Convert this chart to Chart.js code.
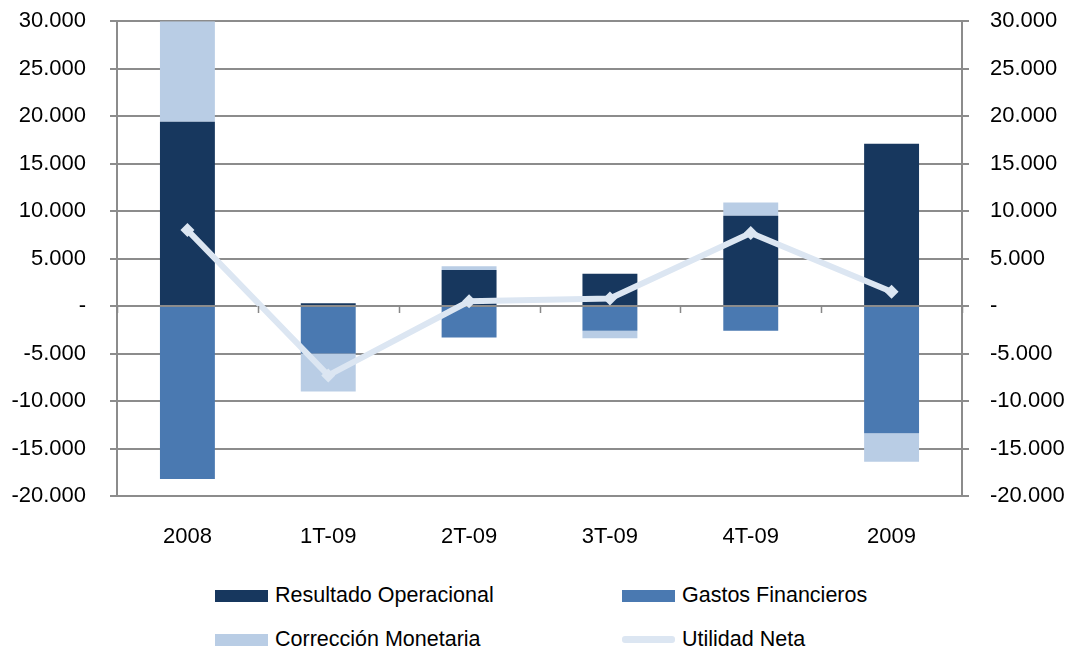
<!DOCTYPE html>
<html>
<head>
<meta charset="utf-8">
<script src="https://cdn.jsdelivr.net/npm/chart.js@4/dist/chart.umd.min.js"></script>
<style>
  body { margin: 0; background: #fff; font-family: "Liberation Sans", Arial, sans-serif; }
  #wrap { position: relative; width: 1068px; height: 651px; overflow: hidden; }
  #box { position: absolute; left: 0; top: -16px; width: 1068px; height: 572px; }
  .leg { position: absolute; font-size: 21.5px; color: #000; display: flex; align-items: center; }
  .sw { width: 53px; height: 12px; margin-right: 7px; position: relative; }
</style>
</head>
<body>
<div id="wrap">
  <div id="box"><canvas id="grafik"></canvas></div>
  <div class="leg" style="left:215px; top:583px;"><div class="sw" style="background:#17375e"></div>Resultado Operacional</div>
  <div class="leg" style="left:622px; top:583px;"><div class="sw" style="background:#4a79b1"></div>Gastos Financieros</div>
  <div class="leg" style="left:215px; top:627px;"><div class="sw" style="background:#b9cde5"></div>Corrección Monetaria</div>
  <div class="leg" style="left:622px; top:627px;"><div class="sw" style="background:#dce6f2; height:7px; border-radius:3px;"></div>Utilidad Neta</div>
</div>
<script>
// Data
var perioder = ["2008", "1T-09", "2T-09", "3T-09", "4T-09", "2009"];
var resultadoOperacional = [19400, 300, 3800, 3400, 9500, 17100];
var gastosFinancieros = [-18200, -5000, -3300, -2600, -2600, -13400];
var correccionMonetaria = [10600, -4000, 400, -800, 1400, -3000];
var utilidadNeta = [8000, -7300, 500, 800, 7700, 1500];

function formatTal(v) {
  if (v === 0) return "-";
  var s = Math.abs(v).toString().replace(/\B(?=(\d{3})+(?!\d))/g, ".");
  return (v < 0 ? "-" : "") + s;
}

// tick marks along the zero line between categories
var nulTicks = {
  id: "nulTicks",
  afterDatasetsDraw: function (chart) {
    var ctx = chart.ctx;
    var y0 = chart.scales.y.getPixelForValue(0);
    var n = perioder.length;
    var w = (chart.chartArea.right - chart.chartArea.left) / n;
    ctx.save();
    ctx.strokeStyle = "#888";
    ctx.lineWidth = 1.5;
    ctx.beginPath();
    for (var i = 0; i <= n; i++) {
      var px = Math.round(chart.chartArea.left + i * w) + 0.5;
      ctx.moveTo(px, y0);
      ctx.lineTo(px, y0 + 7);
    }
    ctx.stroke();
    ctx.restore();
  }
};

var ctxGrafik = document.getElementById("grafik").getContext("2d");
var grafik = new Chart(ctxGrafik, {
  type: "bar",
  data: {
    labels: perioder,
    datasets: [
      {
        type: "line",
        label: "Utilidad Neta",
        data: utilidadNeta,
        borderColor: "#dce6f2",
        backgroundColor: "#dce6f2",
        borderWidth: 6,
        pointStyle: "rectRot",
        pointRadius: 7,
        pointBorderWidth: 0,
        stack: "linje",
        order: 0,
      },
      {
        label: "Resultado Operacional",
        data: resultadoOperacional,
        backgroundColor: "#17375e",
        stack: "s",
        order: 1,
      },
      {
        label: "Gastos Financieros",
        data: gastosFinancieros,
        backgroundColor: "#4a79b1",
        stack: "s",
        order: 1,
      },
      {
        label: "Corrección Monetaria",
        data: correccionMonetaria,
        backgroundColor: "#b9cde5",
        stack: "s",
        order: 1,
      },
    ],
  },
  options: {
    responsive: true,
    maintainAspectRatio: false,
    animation: false,
    datasets: { bar: { barPercentage: 0.39, categoryPercentage: 1.0 } },
    layout: { padding: { top: 5, left: 0, right: 0, bottom: 0 } },
    plugins: { legend: { display: false }, tooltip: { enabled: false } },
    scales: {
      x: {
        stacked: true,
        grid: { display: false },
        border: { display: false },
        ticks: { color: "#000", font: { family: "Liberation Sans", size: 22 }, padding: 20 },
        afterFit: function (s) { s.height = 60; },
      },
      y: {
        stacked: true,
        min: -20000,
        max: 30000,
        position: "left",
        grid: { color: "#8c8c8c", lineWidth: 2, tickLength: 7 },
        border: { color: "#8c8c8c", width: 2 },
        ticks: {
          stepSize: 5000,
          color: "#000",
          font: { family: "Liberation Sans", size: 22 },
          padding: 24,
          callback: function (v) { return formatTal(v); },
        },
        afterFit: function (s) { s.width = 117; },
      },
      y2: {
        min: -20000,
        max: 30000,
        position: "right",
        grid: { drawOnChartArea: false, color: "#8c8c8c", lineWidth: 2, tickLength: 7 },
        border: { color: "#8c8c8c", width: 2 },
        ticks: {
          stepSize: 5000,
          color: "#000",
          font: { family: "Liberation Sans", size: 22 },
          padding: 21,
          callback: function (v) { return formatTal(v); },
        },
        afterFit: function (s) { s.width = 106; },
      },
    },
  },
  plugins: [nulTicks],
});
</script>
</body>
</html>
